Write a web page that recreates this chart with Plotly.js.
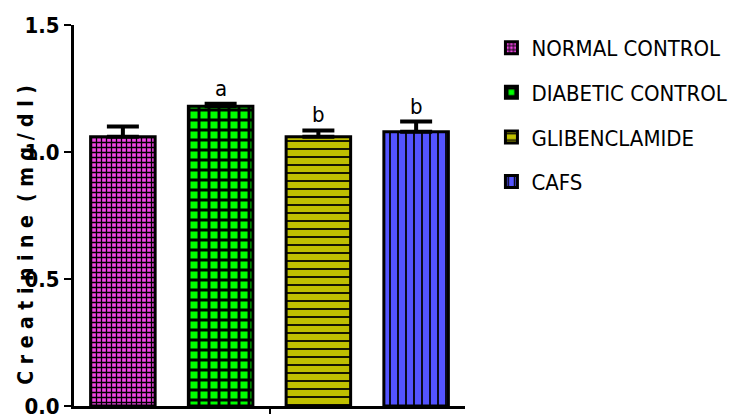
<!DOCTYPE html>
<html>
<head>
<meta charset="utf-8">
<script src="https://cdn.plot.ly/plotly-3.0.1.min.js"></script>
<style>html,body{margin:0;padding:0;background:#fff;}#chart{width:739px;height:414px;}</style>
</head>
<body>
<div id="chart"></div>
<script>
const groups = ["NORMAL CONTROL", "DIABETIC CONTROL", "GLIBENCLAMIDE", "CAFS"];
const creatinine = [1.06, 1.18, 1.06, 1.08];
const sem = [0.04, 0.01, 0.025, 0.04];
const sigLabels = ["", "a", "b", "b"];
const fillColors = ["#f044e4", "#00ff00", "#c0c000", "#5454ff"];
const patternShapes = ["+", "+", "-", "|"];
const patternSizes = [5, 10, 8, 8];
const patternSolid = [0.45, 0.5, 0.22, 0.22];
const yTicks = [0, 0.5, 1.0, 1.5];

const NARROW = '"DejaVu Sans Condensed", "Liberation Sans Narrow", "Arial Narrow", sans-serif';

const traces = groups.map((g, i) => ({
  type: 'bar',
  name: g,
  legendgroup: 'g' + i,
  x: [g],
  y: [creatinine[i]],
  width: 0.66,
  marker: {
    color: fillColors[i],
    line: {color: '#000', width: 3},
    pattern: {shape: patternShapes[i], fgcolor: '#000', bgcolor: fillColors[i], size: patternSizes[i], solidity: patternSolid[i], fillmode: 'replace'}
  },
  error_y: {type: 'data', symmetric: false, array: [sem[i]], arrayminus: [0], color: '#000', thickness: 4, width: 16},
  hoverinfo: 'skip'
}));

const annotations = groups.map((g, i) => ({
  x: g, y: creatinine[i] + sem[i], xref: 'x', yref: 'y',
  text: sigLabels[i], showarrow: false, yanchor: 'bottom', yshift: 1,
  font: {family: NARROW, size: 22, color: '#000'}
})).filter(a => a.text);

annotations.push({
  xref: 'paper', yref: 'paper', x: -0.125, y: 0.45,
  text: 'C r e a t i n i n e  ( m g / d l )', textangle: -90, showarrow: false,
  xanchor: 'center', yanchor: 'middle',
  font: {family: NARROW, size: 21, color: '#000', weight: 'bold'}
});

const layout = {
  width: 739, height: 414,
  margin: {l: 74, r: 274, t: 25, b: 8},
  paper_bgcolor: '#fff', plot_bgcolor: '#fff',
  showlegend: true,
  legend: {
    xref: 'container', yref: 'container', x: 0.665, y: 0.935, xanchor: 'left', yanchor: 'top',
    font: {family: NARROW, size: 22, color: '#000'},
    tracegroupgap: 13, traceorder: 'grouped'
  },
  bargap: 0.34,
  xaxis: {
    type: 'category', range: [-0.5, 3.5],
    showline: true, linecolor: '#000', linewidth: 3,
    tickvals: [1.5], ticktext: [''], ticks: 'outside', ticklen: 8, tickwidth: 2, tickcolor: '#000',
    showgrid: false, zeroline: false, fixedrange: true
  },
  yaxis: {
    range: [0, 1.5], tickvals: yTicks, tickformat: '.1f',
    showline: true, linecolor: '#000', linewidth: 3,
    ticks: 'outside', ticklen: 7, tickwidth: 2, tickcolor: '#000',
    tickfont: {family: NARROW, size: 22, color: '#000', weight: 'bold'},
    ticklabeloverflow: 'allow',
    showgrid: false, zeroline: false, fixedrange: true
  },
  annotations: annotations
};

Plotly.newPlot('chart', traces, layout, {displayModeBar: false, staticPlot: true});
</script>
</body>
</html>
